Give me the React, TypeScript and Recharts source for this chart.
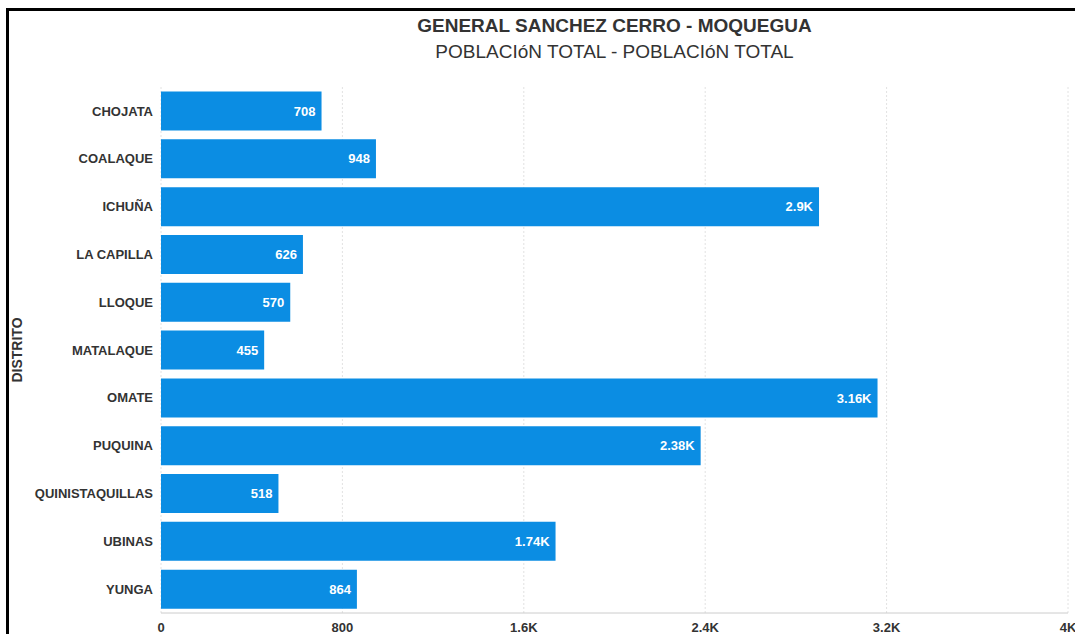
import React from 'react';
import { BarChart, Bar, XAxis, YAxis, CartesianGrid, LabelList, Label } from 'recharts';

const districts = ['CHOJATA', 'COALAQUE', 'ICHUÑA', 'LA CAPILLA', 'LLOQUE', 'MATALAQUE', 'OMATE', 'PUQUINA', 'QUINISTAQUILLAS', 'UBINAS', 'YUNGA'];
const population = [708, 948, 2902, 626, 570, 455, 3160, 2380, 518, 1740, 864];
const xTicks = [0, 800, 1600, 2400, 3200, 4000];

const data = districts.map((d, i) => ({ name: d, value: population[i] }));

const fmt = (v: number) => {
  if (v < 1000) return String(v);
  const s = (v / 1000).toPrecision(3);
  return s.replace(/\.?0+$/, '') + 'K';
};

const FONT = '"Liberation Sans", Arial, Helvetica, sans-serif';

export default function App() {
  return (
    <div style={{ position: 'absolute', left: 0, top: 0, width: 1075, height: 634, overflow: 'hidden', background: '#fff', fontFamily: FONT }}>
      <div style={{ position: 'absolute', left: 6, top: 8, width: 2000, height: 2000, borderLeft: '3px solid #000', borderTop: '3px solid #000' }} />
      <div style={{ position: 'absolute', left: 161, width: 907, top: 15, textAlign: 'center', fontSize: 19, fontWeight: 'bold', color: '#333', lineHeight: '22px' }}>
        GENERAL SANCHEZ CERRO - MOQUEGUA
      </div>
      <div style={{ position: 'absolute', left: 161, width: 907, top: 41, textAlign: 'center', fontSize: 19, color: '#333', lineHeight: '22px' }}>
        POBLACIóN TOTAL - POBLACIóN TOTAL
      </div>
      <div style={{ position: 'absolute', left: 0, top: 0 }}>
        <BarChart
          width={1075}
          height={634}
          data={data}
          layout="vertical"
          margin={{ top: 87, right: 7, bottom: 0, left: 0 }}
          barCategoryGap={4.5}
        >
          <CartesianGrid horizontal={false} stroke="#e2e2e2" strokeDasharray="2 2" />
          <XAxis
            type="number"
            domain={[0, 4000]}
            ticks={xTicks}
            tickFormatter={fmt}
            height={21}
            tickLine={false}
            axisLine={{ stroke: '#cccccc' }}
            tick={{ fill: '#333', fontSize: 13, fontWeight: 'bold', fontFamily: FONT, dy: 2 }}
            interval={0}
          />
          <YAxis
            type="category"
            dataKey="name"
            width={161}
            tickLine={false}
            axisLine={false}
            tick={{ fill: '#333', fontSize: 13, fontWeight: 'bold', fontFamily: FONT }}
            interval={0}
          >
            <Label
              content={(props: any) => {
                const vb = props.viewBox || { x: 0, y: 87, width: 161, height: 526 };
                const cy = vb.y + vb.height / 2;
                return (
                  <text x={22} y={cy} transform={`rotate(-90, 22, ${cy})`} textAnchor="middle" fill="#333" fontSize={14} fontWeight="bold" fontFamily={FONT}>
                    DISTRITO
                  </text>
                );
              }}
            />
          </YAxis>
          <Bar dataKey="value" fill="#0b8de3" isAnimationActive={false}>
            <LabelList
              dataKey="value"
              position="insideRight"
              offset={6}
              formatter={(v: any) => fmt(Number(v))}
              fill="#fff"
              fontSize={13}
              fontWeight="bold"
              fontFamily={FONT}
            />
          </Bar>
        </BarChart>
      </div>
    </div>
  );
}
